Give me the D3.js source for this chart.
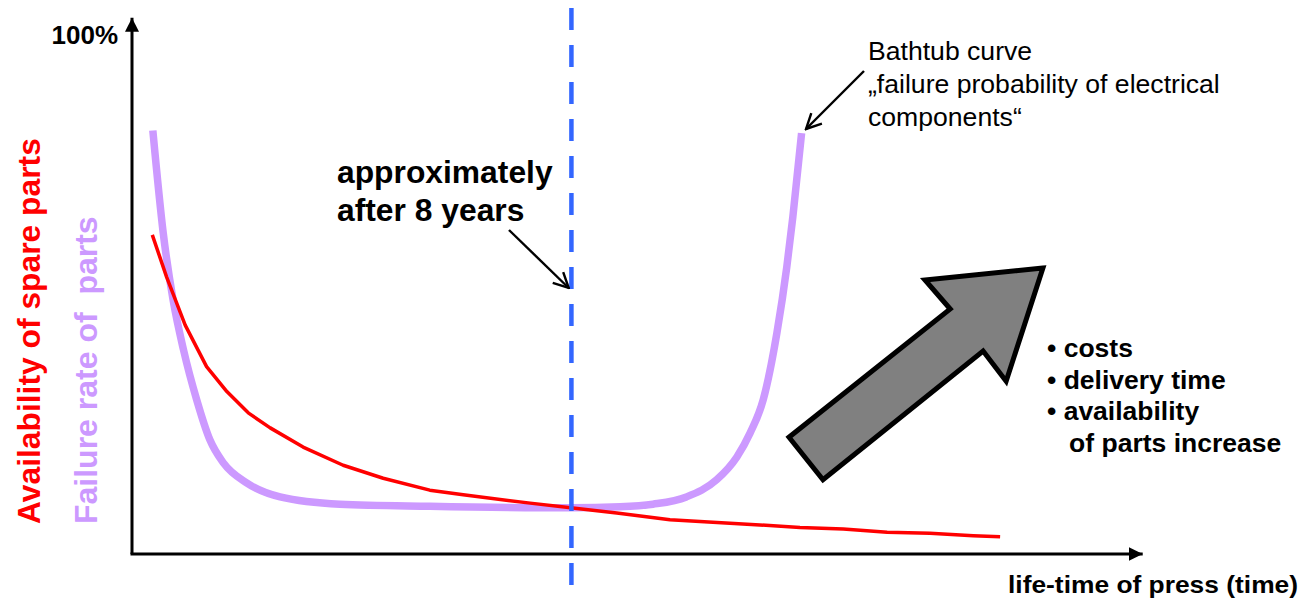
<!DOCTYPE html>
<html>
<head>
<meta charset="utf-8">
<script src="https://cdn.jsdelivr.net/npm/d3@7"></script>
<style>
  html, body { margin: 0; padding: 0; background: #fff; }
  svg { display: block; font-family: "Liberation Sans", Arial, sans-serif; }
</style>
</head>
<body>
<svg id="chart" width="1300" height="603"></svg>
<script>
// ---- data (years of press life-time, percent) ----
const spareYears = [0.37, 0.63, 0.97, 1.36, 1.73, 2.12, 2.52, 3.12, 3.85, 4.58, 5.43, 6.04, 7.26, 8.0, 8.84, 9.81, 11.45, 12.18, 12.97, 13.77, 14.55, 15.34, 15.83];
const spareAvail = [61.5, 53.4, 44.1, 36.1, 31.3, 27.2, 24.3, 20.6, 17.1, 14.6, 12.3, 11.4, 9.8, 8.9, 7.9, 6.6, 5.6, 5.1, 4.8, 4.2, 4.0, 3.5, 3.3];

const failYears = [0.38, 0.57, 0.75, 0.94, 1.18, 1.42, 1.67, 2.09, 2.70, 3.79, 5.43, 8.0, 8.9, 9.5, 10.11, 10.66, 11.03, 11.27, 11.51, 11.76, 11.94, 12.05, 12.21];
const failRate = [81.6, 61.8, 48.9, 39.3, 29.7, 22.0, 17.5, 13.7, 11.0, 9.6, 9.2, 8.9, 9.1, 9.6, 11.0, 14.3, 18.7, 23.3, 29.7, 42.6, 55.3, 64.9, 81.1];

const markerYear = [8];
const yTickValues = [100];
const yTickLabels = ["100%"];

const bulletItems = ["\u2022 costs", "\u2022 delivery time", "\u2022 availability", "   of parts increase"];
const bathtubLines = ["Bathtub curve", "\u201Efailure probability of electrical", "components\u201C"];
const markerLines = ["approximately", "after 8 years"];

// big trend arrow outline, in (years, %)
const trendArrowYears = [16.61, 14.46, 14.92, 11.98, 12.60, 15.52, 15.94];
const trendArrowPct   = [55.1, 52.8, 47.2, 22.5, 14.3, 39.1, 33.3];

// ---- layout ----
const svg = d3.select("#chart");
const x = d3.scaleLinear().domain([0, 18]).range([132, 132 + 18 * 54.84]);
const y = d3.scaleLinear().domain([0, 100]).range([554, 35]);

const defs = svg.append("defs");
defs.append("marker").attr("id", "axisHead")
  .attr("viewBox", "0 0 10 10").attr("refX", 10).attr("refY", 5)
  .attr("markerWidth", 14).attr("markerHeight", 14).attr("markerUnits", "userSpaceOnUse")
  .attr("orient", "auto")
  .append("path").attr("d", "M0,0 L10,5 L0,10 Z").attr("fill", "#000");
defs.append("marker").attr("id", "openHead")
  .attr("viewBox", "0 0 12 12").attr("refX", 11).attr("refY", 6)
  .attr("markerWidth", 18).attr("markerHeight", 18).attr("markerUnits", "userSpaceOnUse")
  .attr("orient", "auto")
  .append("path").attr("d", "M1,1 L11,6 L1,11").attr("fill", "none")
  .attr("stroke", "#000").attr("stroke-width", 1.6);

// axes
const yAxis = d3.axisLeft(y).tickValues(yTickValues)
  .tickFormat((d, i) => yTickLabels[i]).tickSize(0).tickPadding(14);
const gy = svg.append("g").attr("transform", `translate(${x(0)},0)`).call(yAxis);
gy.select(".domain").remove();
gy.selectAll("text").attr("font-size", 26).attr("font-weight", "bold")
  .attr("font-family", "Liberation Sans, Arial, sans-serif").attr("fill", "#000");

const xAxis = d3.axisBottom(x).tickValues([]).tickSize(0);
const gx = svg.append("g").attr("transform", `translate(0,${y(0)})`).call(xAxis);
gx.select(".domain").remove();

svg.append("line").attr("x1", x(0)).attr("y1", y(0)).attr("x2", x(0)).attr("y2", y(103.3))
  .attr("stroke", "#000").attr("stroke-width", 3).attr("marker-end", "url(#axisHead)");
svg.append("line").attr("x1", x(0) - 1.5).attr("y1", y(0)).attr("x2", x(18.43)).attr("y2", y(0))
  .attr("stroke", "#000").attr("stroke-width", 3).attr("marker-end", "url(#axisHead)");

// axis titles
svg.append("text").attr("transform", `translate(40,524) rotate(-90)`)
  .attr("font-size", 31.8).attr("font-weight", "bold").attr("fill", "#FF0000")
  .text("Availability of spare parts");
svg.append("text").attr("transform", `translate(97,524) rotate(-90)`)
  .attr("font-size", 32).attr("font-weight", "bold").attr("fill", "#CC99FF")
  .attr("xml:space", "preserve").style("white-space", "pre")
  .text("Failure rate of  parts");
svg.append("text").attr("x", 1008).attr("y", 593)
  .attr("font-size", 24).attr("font-weight", "bold").attr("fill", "#000")
  .attr("textLength", 290).attr("lengthAdjust", "spacingAndGlyphs")
  .text("life-time of press (time)");

// curves
const spare = spareYears.map((d, i) => [d, spareAvail[i]]);
const fail = failYears.map((d, i) => [d, failRate[i]]);

svg.append("path").datum(fail)
  .attr("d", d3.line().x(d => x(d[0])).y(d => y(d[1])).curve(d3.curveMonotoneX))
  .attr("fill", "none").attr("stroke", "#CC99FF").attr("stroke-width", 7.5);

svg.append("path").datum(spare)
  .attr("d", d3.line().x(d => x(d[0])).y(d => y(d[1])).curve(d3.curveLinear))
  .attr("fill", "none").attr("stroke", "#FF0000").attr("stroke-width", 3.5)
  .attr("stroke-linejoin", "round");

// dashed marker line
svg.selectAll(".marker").data(markerYear).enter().append("line")
  .attr("x1", d => x(d) + 0.7).attr("x2", d => x(d) + 0.7)
  .attr("y1", 8).attr("y2", 594)
  .attr("stroke", "#3366FF").attr("stroke-width", 4.5)
  .attr("stroke-dasharray", "22,15");

// annotation: approximately after 8 years
const mt = svg.append("text").attr("font-size", 31.8).attr("font-weight", "bold").attr("fill", "#000");
markerLines.forEach((t, i) => mt.append("tspan").attr("x", 337).attr("y", 183 + i * 38).text(t));
svg.append("line").attr("x1", 509).attr("y1", 230).attr("x2", x(8) - 2).attr("y2", 288)
  .attr("stroke", "#000").attr("stroke-width", 2.4).attr("marker-end", "url(#openHead)");

// annotation: bathtub curve
const bt = svg.append("text").attr("font-size", 26.6).attr("fill", "#000");
bathtubLines.forEach((t, i) => bt.append("tspan").attr("x", 868).attr("y", 60 + i * 33).text(t));
svg.append("line").attr("x1", 864).attr("y1", 71).attr("x2", 806).attr("y2", 129)
  .attr("stroke", "#000").attr("stroke-width", 2.4).attr("marker-end", "url(#openHead)");

// trend arrow
const arrowPts = trendArrowYears.map((d, i) => [x(d), y(trendArrowPct[i])]);
svg.append("path").attr("d", d3.line()(arrowPts) + "Z")
  .attr("fill", "#808080").attr("stroke", "#000").attr("stroke-width", 5)
  .attr("stroke-linejoin", "miter");

// bullet list
const bl = svg.append("text").attr("font-size", 26.5).attr("font-weight", "bold").attr("fill", "#000")
  .style("white-space", "pre");
bulletItems.forEach((t, i) => bl.append("tspan").attr("x", 1047).attr("y", 357 + i * 31.7).text(t));
</script>
</body>
</html>
